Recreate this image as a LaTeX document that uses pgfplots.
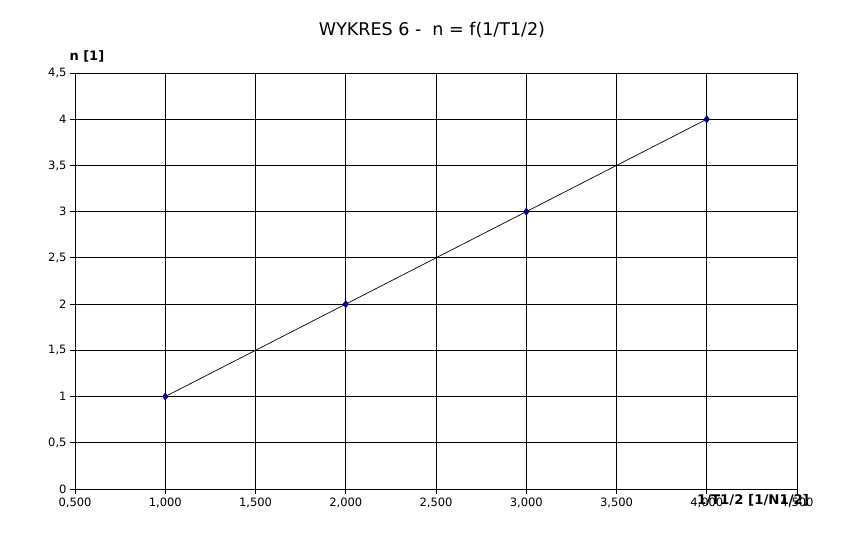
\documentclass[border=0pt]{standalone}
\usepackage{pgfplots}
\pgfplotsset{compat=1.18}
\usepackage{fontspec}
\setmainfont{DejaVu Sans}

\begin{document}
\begin{tikzpicture}[x=1bp,y=1bp]
\path[use as bounding box] (0,0) rectangle (866,548);
\begin{axis}[
    at={(75bp,59bp)}, anchor=south west,
    scale only axis,
    width=722bp, height=416bp,
    xmin=0.5, xmax=4.5,
    ymin=0, ymax=4.5,
    xtick={0.5,1,...,4.5},
    ytick={0,0.5,...,4.5},
    grid=major,
    grid style={black, line width=0.8bp},
    axis line style={black, line width=0.8bp},
    tick style={black, line width=0.8bp},
    tick align=outside,
    major tick length=5bp,
    xtick pos=bottom, ytick pos=left,
    tick label style={font=\fontsize{11.5bp}{13bp}\selectfont},
    /pgf/number format/assume math mode=true,
    /pgf/number format/use comma,
    xticklabel={\pgfmathprintnumber[fixed,fixed zerofill,precision=3,use comma]{\tick}},
    yticklabel={\pgfmathprintnumber[fixed,precision=1,use comma]{\tick}},
    scaled ticks=false,
    clip=false,
]
\addplot[black, line width=0.7bp, mark=diamond*, mark size=3.5bp,
    mark options={fill=blue!50!black, draw=blue!50!black}] coordinates {
(1,1) (2,2) (3,3) (4,4)
};
\end{axis}
\node[font=\fontsize{17.5bp}{20bp}\selectfont] at (432,518) {WYKRES 6 -\ \ n = f(1/T1/2)};
\node[font=\bfseries\fontsize{13bp}{15bp}\selectfont, anchor=west] at (66,492) {n [1]};
\node[font=\bfseries\fontsize{13.3bp}{15bp}\selectfont] at (753,48) {1/T1/2 [1/N1/2]};
\end{tikzpicture}
\end{document}
